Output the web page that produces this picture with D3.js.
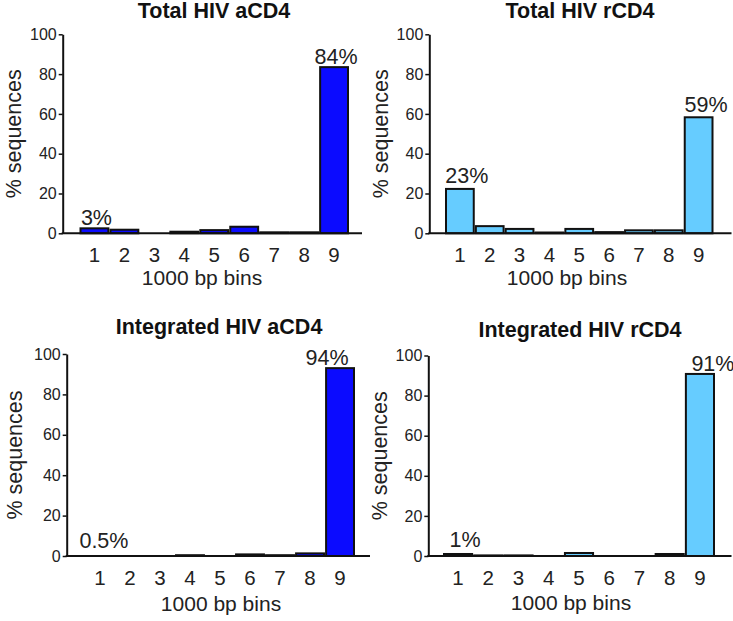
<!DOCTYPE html>
<html>
<head>
<meta charset="utf-8">
<script src="https://cdn.jsdelivr.net/npm/d3@7"></script>
<style>
  html, body { margin: 0; padding: 0; background: #fff; }
  svg { display: block; font-family: "Liberation Sans", Arial, Helvetica, sans-serif; }
</style>
</head>
<body>
<svg id="chart" width="733" height="621"></svg>
<script>
// ---- data ----
const bins = ["1", "2", "3", "4", "5", "6", "7", "8", "9"];
const yTicks = [0, 20, 40, 60, 80, 100];

const totalACD4 = [2.5, 1.8, 0, 0.8, 1.6, 3.3, 0.5, 0.5, 83.5];
const totalRCD4 = [22.3, 3.6, 2.2, 0.4, 2.2, 0.6, 1.5, 1.5, 58.3];
const integratedACD4 = [0, 0, 0, 0.4, 0, 0.8, 0.4, 1.3, 93];
const integratedRCD4 = [1, 0.3, 0.3, 0, 1.5, 0, 0, 1, 90.8];

const totalACD4Labels = [{ bin: "1", text: "3%" }, { bin: "9", text: "84%" }];
const totalRCD4Labels = [{ bin: "1", text: "23%" }, { bin: "9", text: "59%" }];
const integratedACD4Labels = [{ bin: "1", text: "0.5%" }, { bin: "9", text: "94%" }];
const integratedRCD4Labels = [{ bin: "1", text: "1%" }, { bin: "9", text: "91%" }];

const titles = ["Total HIV aCD4", "Total HIV rCD4", "Integrated HIV aCD4", "Integrated HIV rCD4"];
const xTitle = "1000 bp bins";
const yTitle = "% sequences";

// ---- layout / style ----
const BLUE = "#0b0bff";
const LIGHT = "#66ccff";

const panels = [
  { title: titles[0], values: totalACD4, labels: totalACD4Labels, color: BLUE,
    axisX: 62.7, axisRight: 362, bandL: 80.5, bandR: 348, y0: 233.3, y100: 34.3,
    titleX: 214, titleY: 18, xTitleX: 202, xTitleY: 285, yTitleX: 21,
    labelOff: [{ dx: 2, gap: 3 }, { dx: 2, gap: 3.5 }] },
  { title: titles[1], values: totalRCD4, labels: totalRCD4Labels, color: LIGHT,
    axisX: 429.3, axisRight: 731.5, bandL: 446, bandR: 712.5, y0: 233.3, y100: 34.3,
    titleX: 580, titleY: 18, xTitleX: 567, xTitleY: 285, yTitleX: 388,
    labelOff: [{ dx: 7, gap: 6 }, { dx: 7.5, gap: 5.5 }] },
  { title: titles[2], values: integratedACD4, labels: integratedACD4Labels, color: BLUE,
    axisX: 66.7, axisRight: 370, bandL: 86, bandR: 354, y0: 556, y100: 354,
    titleX: 219, titleY: 334, xTitleX: 221, xTitleY: 611, yTitleX: 21.5,
    labelOff: [{ dx: 4, gap: 8 }, { dx: -13, gap: 3 }] },
  { title: titles[3], values: integratedRCD4, labels: integratedRCD4Labels, color: LIGHT,
    axisX: 428.3, axisRight: 731.5, bandL: 444, bandR: 714, y0: 556, y100: 355.5,
    titleX: 580, titleY: 337, xTitleX: 571, xTitleY: 610, yTitleX: 386.5,
    labelOff: [{ dx: 7, gap: 7 }, { dx: 13, gap: 3 }] }
];

const svg = d3.select("#chart");

panels.forEach(p => {
  const g = svg.append("g");
  const x = d3.scaleBand().domain(bins).range([p.bandL, p.bandR]).paddingInner(0.07).paddingOuter(0);
  const y = d3.scaleLinear().domain([0, 100]).range([p.y0, p.y100]);

  // bars
  g.selectAll("rect.bar")
    .data(bins.map((b, i) => ({ bin: b, v: p.values[i] })).filter(d => d.v > 0))
    .join("rect")
    .attr("class", "bar")
    .attr("x", d => x(d.bin))
    .attr("y", d => y(d.v))
    .attr("width", x.bandwidth())
    .attr("height", d => y(0) - y(d.v))
    .attr("fill", p.color)
    .attr("stroke", "#111")
    .attr("stroke-width", 2);

  // y axis
  const ya = g.append("g")
    .attr("transform", `translate(${p.axisX},0)`)
    .call(d3.axisLeft(y).tickValues(yTicks).tickSize(4).tickSizeOuter(0).tickPadding(2));
  ya.select(".domain").attr("stroke", "#111").attr("stroke-width", 2);
  ya.selectAll(".tick line").attr("stroke", "#111").attr("stroke-width", 1.5);
  ya.selectAll(".tick text").attr("font-size", 16).attr("fill", "#222")
    .attr("font-family", "Liberation Sans, Arial, sans-serif");

  // x axis labels
  const xa = g.append("g")
    .attr("transform", `translate(0,${p.y0})`)
    .call(d3.axisBottom(x).tickSize(0));
  xa.select(".domain").remove();
  xa.selectAll(".tick text").attr("y", 29).attr("dy", 0).attr("font-size", 20.5).attr("fill", "#222")
    .attr("font-family", "Liberation Sans, Arial, sans-serif");

  // x axis line
  g.append("line")
    .attr("x1", p.axisX - 1).attr("x2", p.axisRight)
    .attr("y1", y(0)).attr("y2", y(0))
    .attr("stroke", "#111").attr("stroke-width", 2);

  // value labels
  g.selectAll("text.vlabel")
    .data(p.labels)
    .join("text")
    .attr("class", "vlabel")
    .attr("x", (d, i) => x(d.bin) + x.bandwidth() / 2 + p.labelOff[i].dx)
    .attr("y", (d, i) => y(p.values[bins.indexOf(d.bin)]) - p.labelOff[i].gap)
    .attr("text-anchor", "middle")
    .attr("font-size", 21.5)
    .attr("fill", "#222")
    .text(d => d.text);

  // title
  g.append("text")
    .attr("x", p.titleX).attr("y", p.titleY)
    .attr("text-anchor", "middle")
    .attr("font-size", 21.5).attr("font-weight", "bold").attr("fill", "#111")
    .text(p.title);

  // x title
  g.append("text")
    .attr("x", p.xTitleX).attr("y", p.xTitleY)
    .attr("text-anchor", "middle")
    .attr("font-size", 21).attr("fill", "#222")
    .text(xTitle);

  // y title
  g.append("text")
    .attr("transform", `translate(${p.yTitleX},${(p.y0 + p.y100) / 2}) rotate(-90)`)
    .attr("text-anchor", "middle")
    .attr("font-size", 21.5).attr("fill", "#222")
    .text(yTitle);
});
</script>
</body>
</html>
